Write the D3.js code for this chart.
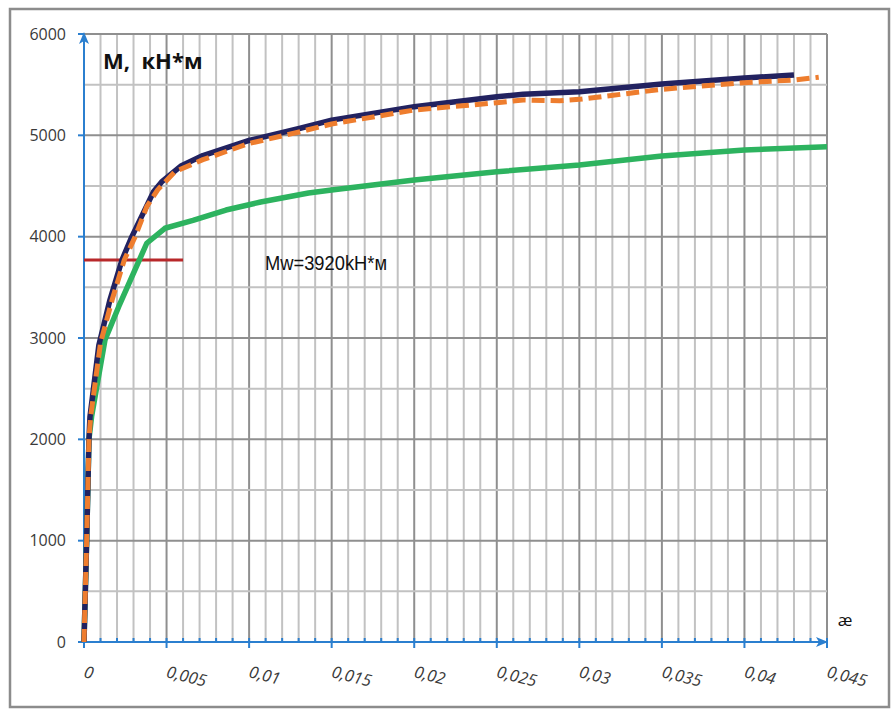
<!DOCTYPE html>
<html>
<head>
<meta charset="utf-8">
<script src="https://cdn.jsdelivr.net/npm/d3@7"></script>
<style>
  html, body { margin: 0; padding: 0; background: #fff; }
  svg { display: block; }
</style>
</head>
<body>
<div id="chart"></div>
<script>
// M - æ curves (moment vs curvature)

// x = curvature æ, y = M, кН*м
const navyX = [0, 0.00016, 0.0003, 0.00036, 0.0009, 0.00157, 0.0023, 0.0029, 0.0042, 0.0047, 0.0059, 0.0072, 0.01, 0.0131, 0.015, 0.02, 0.025, 0.0266, 0.03, 0.035, 0.04, 0.043];
const navyM = [0, 1000, 2000, 2220, 2930, 3375, 3770, 4000, 4440, 4540, 4700, 4800, 4950, 5070, 5150, 5283, 5380, 5405, 5430, 5507, 5565, 5596];

const orangeX = [0, 0.00016, 0.0003, 0.0004, 0.001, 0.0017, 0.00244, 0.0031, 0.0038, 0.00446, 0.0055, 0.0072, 0.01, 0.0131, 0.015, 0.02, 0.025, 0.0266, 0.0288, 0.03, 0.035, 0.04, 0.043, 0.0445];
const orangeM = [0, 1000, 2000, 2220, 2950, 3375, 3770, 4000, 4296, 4462, 4641, 4760, 4920, 5036, 5112, 5250, 5322, 5349, 5342, 5355, 5454, 5520, 5546, 5573];

const greenX = [0, 0.00016, 0.0003, 0.00046, 0.00127, 0.0021, 0.0038, 0.0049, 0.0066, 0.0086, 0.0107, 0.0136, 0.015, 0.02, 0.025, 0.03, 0.035, 0.04, 0.045];
const greenM = [0, 1000, 2000, 2224, 2980, 3309, 3935, 4083, 4160, 4263, 4342, 4431, 4461, 4559, 4641, 4707, 4796, 4855, 4888];

// Mw level line
const mwX = [0, 0.006];
const mwM = [3770, 3770];

const xTicks = [0, 0.005, 0.01, 0.015, 0.02, 0.025, 0.03, 0.035, 0.04, 0.045];
const xTickLabels = ["0", "0,005", "0,01", "0,015", "0,02", "0,025", "0,03", "0,035", "0,04", "0,045"];
const yTicks = [0, 1000, 2000, 3000, 4000, 5000, 6000];

const W = 891, H = 711;
const margin = [34, 69, 64, 84]; // top, bottom, right, left

const svg = d3.select('#chart')
    .append('svg')
    .attr('width', W)
    .attr('height', H)
    .style('font-family', "'Open Sans', 'Noto Sans', sans-serif");

const x = d3.scaleLinear()
    .domain([0, 0.045])
    .range([margin[3], W - margin[2]]);

const y = d3.scaleLinear()
    .domain([0, 6000])
    .range([H - margin[1], margin[0]]);

// Frame
svg.append('rect')
    .attr('x', 10).attr('y', 9)
    .attr('width', 879).attr('height', 698)
    .attr('fill', '#fff')
    .attr('stroke', '#8c8c8c')
    .attr('stroke-width', 2.5);

// Grid
const grid = svg.append('g');
const xMinor = d3.range(0, 46).map(i => i / 1000);
const yMinor = d3.range(0, 13).map(i => i * 500);

grid.selectAll('line.vx')
    .data(xMinor)
    .join('line')
    .attr('class', 'vx')
    .attr('x1', d => x(d)).attr('x2', d => x(d))
    .attr('y1', y(0)).attr('y2', y(6000))
    .attr('stroke', (d, i) => i % 5 === 0 ? '#8f8f8f' : '#c2c2c2')
    .attr('stroke-width', 2);

grid.selectAll('line.hy')
    .data(yMinor)
    .join('line')
    .attr('class', 'hy')
    .attr('x1', x(0)).attr('x2', x(0.045))
    .attr('y1', d => y(d)).attr('y2', d => y(d))
    .attr('stroke', (d, i) => i % 2 === 0 ? '#8f8f8f' : '#c2c2c2')
    .attr('stroke-width', 2);

// Axes
const axisColor = '#2b7fcf';
const axes = svg.append('g');

axes.append('line')
    .attr('x1', x(0)).attr('x2', x(0))
    .attr('y1', y(0) + 2).attr('y2', y(6000) + 4)
    .attr('stroke', axisColor).attr('stroke-width', 2);

axes.append('line')
    .attr('x1', x(0) - 6).attr('x2', x(0.045) - 4)
    .attr('y1', y(0)).attr('y2', y(0))
    .attr('stroke', axisColor).attr('stroke-width', 2);

// arrowheads
axes.append('path')
    .attr('d', `M${x(0)},${y(6000) - 2} L${x(0) - 5},${y(6000) + 10} L${x(0)},${y(6000) + 7} L${x(0) + 5},${y(6000) + 10} Z`)
    .attr('fill', axisColor);

axes.append('path')
    .attr('d', `M${x(0.045) + 1},${y(0)} L${x(0.045) - 11},${y(0) - 5} L${x(0.045) - 8},${y(0)} L${x(0.045) - 11},${y(0) + 5} Z`)
    .attr('fill', axisColor);

// y ticks
axes.selectAll('line.yt')
    .data(yTicks)
    .join('line')
    .attr('class', 'yt')
    .attr('x1', x(0) - 6).attr('x2', x(0))
    .attr('y1', d => y(d)).attr('y2', d => y(d))
    .attr('stroke', axisColor).attr('stroke-width', 2);

// x ticks: minor up, major down
axes.selectAll('line.xt')
    .data(xMinor)
    .join('line')
    .attr('class', 'xt')
    .attr('x1', d => x(d)).attr('x2', d => x(d))
    .attr('y1', y(0) - 4)
    .attr('y2', (d, i) => i % 5 === 0 ? y(0) + 6 : y(0))
    .attr('stroke', axisColor).attr('stroke-width', 2);

// y labels
svg.selectAll('text.yl')
    .data(yTicks)
    .join('text')
    .attr('class', 'yl')
    .attr('x', x(0) - 18)
    .attr('y', d => y(d))
    .attr('dy', '0.35em')
    .attr('text-anchor', 'end')
    .style('font-size', '16px')
    .style('fill', '#3a3a3a')
    .text(d => d);

// x labels
svg.selectAll('text.xl')
    .data(xTicks)
    .join('text')
    .attr('class', 'xl')
    .attr('transform', d => `translate(${x(d) - 1},${y(0) + 35}) rotate(14)`)
    .attr('text-anchor', 'start')
    .style('font-size', '16.5px')
    .style('font-style', 'italic')
    .style('fill', '#3a3a3a')
    .text((d, i) => xTickLabels[i]);

// Curves
const line = d3.line()
    .x(d => x(d[0]))
    .y(d => y(d[1]));

const zip = (xs, ms) => xs.map((v, i) => [v, ms[i]]);

svg.append('path')
    .datum(zip(mwX, mwM))
    .attr('d', line)
    .attr('fill', 'none')
    .attr('stroke', '#b8282a')
    .attr('stroke-width', 3);

svg.append('path')
    .datum(zip(greenX, greenM))
    .attr('d', line)
    .attr('fill', 'none')
    .attr('stroke', '#2db35f')
    .attr('stroke-width', 5.5)
    .attr('stroke-linejoin', 'round');

svg.append('path')
    .datum(zip(navyX, navyM))
    .attr('d', line)
    .attr('fill', 'none')
    .attr('stroke', '#222260')
    .attr('stroke-width', 5.5)
    .attr('stroke-linejoin', 'round');

svg.append('path')
    .datum(zip(orangeX, orangeM))
    .attr('d', line)
    .attr('fill', 'none')
    .attr('stroke', '#ee7d2e')
    .attr('stroke-width', 5)
    .attr('stroke-dasharray', '13,6')
    .attr('stroke-linejoin', 'round');

// Texts
svg.append('text')
    .attr('x', 103).attr('y', 69)
    .attr('xml:space', 'preserve')
    .style('white-space', 'pre')
    .style('font-size', '22px')
    .style('font-weight', 'bold')
    .style('fill', '#111')
    .text('M,  кН*м');

svg.append('text')
    .attr('x', 265).attr('y', 270)
    .attr('textLength', 122)
    .attr('lengthAdjust', 'spacingAndGlyphs')
    .style('font-family', "'Liberation Sans Narrow', 'Liberation Sans', sans-serif")
    .style('font-size', '20px')
    .style('fill', '#111')
    .text('Mw=3920kH*м');

svg.append('text')
    .attr('x', 845).attr('y', 620)
    .attr('dy', '0.35em')
    .attr('text-anchor', 'middle')
    .style('font-size', '17px')
    .style('fill', '#111')
    .text('æ');
</script>
</body>
</html>
